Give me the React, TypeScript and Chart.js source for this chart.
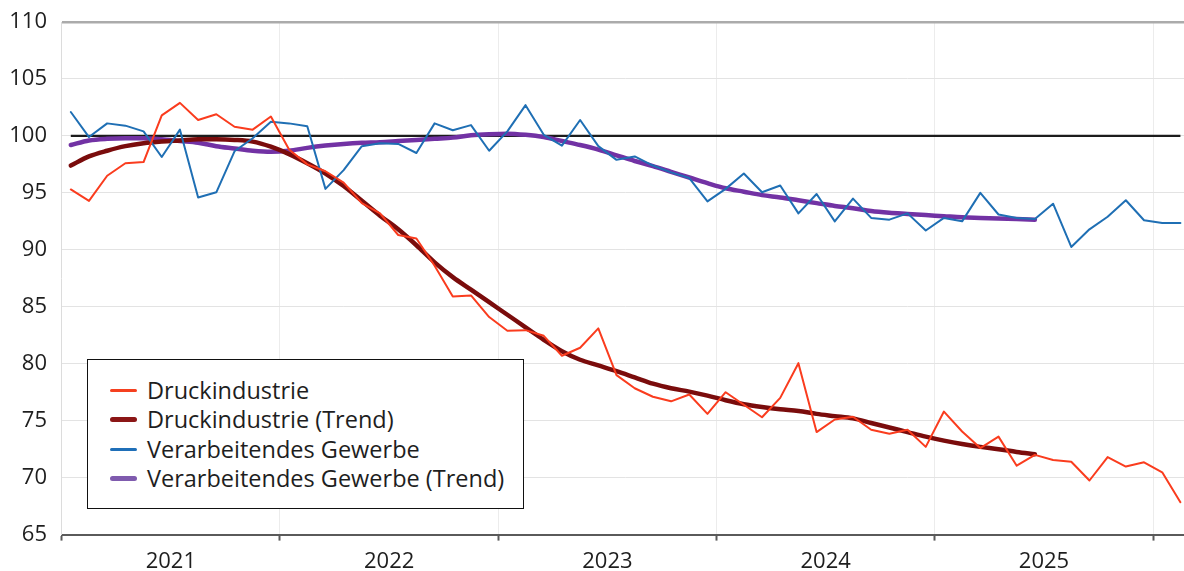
import React, { useEffect, useRef } from 'react';
import { Chart, registerables } from 'chart.js';

Chart.register(...registerables);

// ---- data ----
const years = ['2021', '2022', '2023', '2024', '2025', '2026'];
const monthCodes = ['01', '02', '03', '04', '05', '06', '07', '08', '09', '10', '11', '12'];
const categories: string[] = years.flatMap((y) => monthCodes.map((m) => `${y}-${m}`)).slice(0, 62);
const yearTickLabels = ['2021', '2022', '2023', '2024', '2025'];
const yTicks = [65, 70, 75, 80, 85, 90, 95, 100, 105, 110];
const referenceLevel = 100;

const druck = [
  95.3, 94.3, 96.5, 97.6, 97.7, 101.8, 102.9, 101.4, 101.9, 100.8, 100.55, 101.7,
  98.8, 97.5, 96.9, 95.9, 94.1, 93.2, 91.3, 91.0, 88.6, 85.9, 86.0, 84.1,
  82.9, 82.95, 82.45, 80.7, 81.4, 83.1, 79.0, 77.85, 77.1, 76.7, 77.3, 75.6,
  77.5, 76.4, 75.3, 77.0, 80.05, 74.0, 75.1, 75.35, 74.2, 73.85, 74.2, 72.7,
  75.8, 74.05, 72.6, 73.6, 71.05, 72.0, 71.55, 71.4, 69.75, 71.8, 70.97, 71.35,
  70.47, 67.84,
];

const druckTrend = [
  97.4, 98.2, 98.7, 99.1, 99.35, 99.5, 99.6, 99.7, 99.7, 99.65, 99.5, 99.05,
  98.4, 97.6, 96.7, 95.6, 94.3, 93.0, 91.8, 90.4, 88.9, 87.6, 86.5, 85.4,
  84.3, 83.2, 82.1, 81.1, 80.35, 79.85, 79.35, 78.8, 78.25, 77.85, 77.55, 77.2,
  76.8, 76.45, 76.2, 76.0, 75.85, 75.6, 75.4, 75.2, 74.8, 74.4, 74.0, 73.6,
  73.25, 72.95, 72.7, 72.5, 72.25, 72.05,
];

const gewerbe = [
  102.1, 99.9, 101.1, 100.9, 100.4, 98.15, 100.55, 94.6, 95.05, 98.65, 99.8, 101.25,
  101.1, 100.85, 95.35, 97.0, 99.1, 99.35, 99.3, 98.5, 101.1, 100.5, 100.95, 98.7,
  100.4, 102.7, 100.1, 99.15, 101.4, 99.1, 97.9, 98.2, 97.4, 96.8, 96.3, 94.25,
  95.35, 96.7, 95.05, 95.65, 93.2, 94.9, 92.5, 94.5, 92.8, 92.65, 93.2, 91.7,
  92.8, 92.5, 95.0, 93.1, 92.8, 92.7, 94.05, 90.25, 91.8, 92.9, 94.35, 92.6,
  92.35, 92.35,
];

const gewerbeTrend = [
  99.2, 99.6, 99.75, 99.8, 99.8, 99.7, 99.55, 99.4, 99.1, 98.9, 98.7, 98.6,
  98.7, 98.95, 99.15, 99.3, 99.4, 99.45, 99.55, 99.65, 99.75, 99.85, 100.05, 100.15,
  100.2, 100.1, 99.9, 99.55, 99.2, 98.8, 98.3, 97.8, 97.35, 96.85, 96.35, 95.85,
  95.4, 95.1, 94.8, 94.6, 94.35, 94.1, 93.85, 93.65, 93.4, 93.25, 93.15, 93.05,
  92.95, 92.85, 92.8, 92.75, 92.7, 92.65,
];

const seriesNames = [
  'Druckindustrie',
  'Druckindustrie (Trend)',
  'Verarbeitendes Gewerbe',
  'Verarbeitendes Gewerbe (Trend)',
];
const lineColors = ['#fa3c1e', '#7a0c0c', '#1f6fb4', '#7232a4'];
const legendColors = ['#f5401f', '#8b1616', '#1f6fb8', '#7f5bae'];
const lineWidths = [2, 4.5, 2, 4.5];

const FONT = "'Open Sans', 'DejaVu Sans', sans-serif";

const referenceLinePlugin = {
  id: 'referenceLine',
  beforeDatasetsDraw(chart: any) {
    const x = chart.scales.x;
    const y = chart.scales.y;
    const ctx = chart.ctx;
    const py = y.getPixelForValue(referenceLevel);
    ctx.save();
    ctx.strokeStyle = '#1c1c1c';
    ctx.lineWidth = 2.4;
    ctx.beginPath();
    ctx.moveTo(x.getPixelForValue(0), py);
    ctx.lineTo(x.getPixelForValue(categories.length - 1), py);
    ctx.stroke();
    ctx.restore();
  },
};

export default function App() {
  const canvasRef = useRef<HTMLCanvasElement | null>(null);

  useEffect(() => {
    if (!canvasRef.current) return;
    const values = [druck, druckTrend, gewerbe, gewerbeTrend];
    const chart = new Chart(canvasRef.current, {
      type: 'line',
      data: {
        labels: categories,
        datasets: values.map((d, i) => ({
          label: seriesNames[i],
          data: d,
          borderColor: lineColors[i],
          backgroundColor: lineColors[i],
          borderWidth: lineWidths[i],
          pointRadius: 0,
          fill: false,
          tension: i % 2 === 1 ? 0.4 : 0,
          cubicInterpolationMode: i % 2 === 1 ? 'monotone' : 'default',
          borderCapStyle: 'round',
          borderJoinStyle: 'round',
          order: i % 2 === 1 ? 1 : 0,
        })),
      } as any,
      plugins: [referenceLinePlugin],
      options: {
        animation: false,
        responsive: false,
        devicePixelRatio: 1,
        layout: { padding: { left: 0, top: 22, right: 2.5, bottom: 0 } },
        plugins: {
          legend: { display: false },
          tooltip: { enabled: false },
        },
        scales: {
          x: {
            type: 'category',
            offset: true,
            afterFit: (scale: any) => {
              scale.height = 36.4;
            },
            border: { display: true, color: '#5a5a5a', width: 2 },
            grid: {
              offset: true,
              drawTicks: true,
              tickLength: 6,
              tickWidth: 2,
              lineWidth: 1,
              color: (c: any) =>
                c.index !== undefined && c.index % 12 === 0 && c.index > 0 ? '#ececec' : 'rgba(0,0,0,0)',
              tickColor: (c: any) =>
                c.index !== undefined && c.index % 12 === 0 ? '#5a5a5a' : 'rgba(0,0,0,0)',
            },
            ticks: {
              autoSkip: false,
              maxRotation: 0,
              minRotation: 0,
              padding: 8,
              labelOffset: 9.1,
              color: '#1e1e1e',
              font: { family: FONT, size: 22 },
              callback: (_v: any, idx: number) =>
                idx % 12 === 5 ? yearTickLabels[Math.floor(idx / 12)] ?? '' : '',
            },
          },
          y: {
            type: 'linear',
            min: yTicks[0],
            max: yTicks[yTicks.length - 1],
            afterFit: (scale: any) => {
              scale.width = 61.7;
            },
            afterBuildTicks: (scale: any) => {
              scale.ticks = yTicks.map((v) => ({ value: v }));
            },
            border: { display: true, color: '#dcdcdc', width: 1 },
            grid: {
              drawTicks: true,
              tickLength: 14.7,
              tickColor: 'rgba(0,0,0,0)',
              color: (c: any) => (c.tick && c.tick.value === 110 ? '#ababab' : '#e3e3e3'),
              lineWidth: (c: any) => (c.tick && c.tick.value === 110 ? 2.5 : 1),
            },
            ticks: {
              padding: 0,
              color: '#1e1e1e',
              font: { family: FONT, size: 22 },
            },
          },
        },
      } as any,
    });
    return () => chart.destroy();
  }, []);

  return (
    <div
      style={{
        position: 'absolute',
        left: 0,
        top: 0,
        width: 1184,
        height: 571,
        overflow: 'hidden',
        background: '#ffffff',
      }}
    >
      <canvas ref={canvasRef} width={1192} height={571} style={{ display: 'block', width: 1192, height: 571 }} />
      <div
        style={{
          position: 'absolute',
          left: 87,
          top: 359,
          width: 437,
          height: 150,
          boxSizing: 'border-box',
          border: '1px solid #111',
          background: '#ffffff',
          paddingTop: 15.5,
          fontFamily: FONT,
          fontSize: 23.5,
          color: '#1e1e1e',
        }}
      >
        {seriesNames.map((name, i) => (
          <div key={name} style={{ height: 29.5, display: 'flex', alignItems: 'center' }}>
            <span
              style={{
                display: 'inline-block',
                marginLeft: 22,
                width: 27,
                height: i % 2 === 1 ? 5 : 2.5,
                borderRadius: 3,
                background: legendColors[i],
              }}
            />
            <span style={{ marginLeft: 10, whiteSpace: 'nowrap', lineHeight: '29.5px' }}>{name}</span>
          </div>
        ))}
      </div>
    </div>
  );
}
